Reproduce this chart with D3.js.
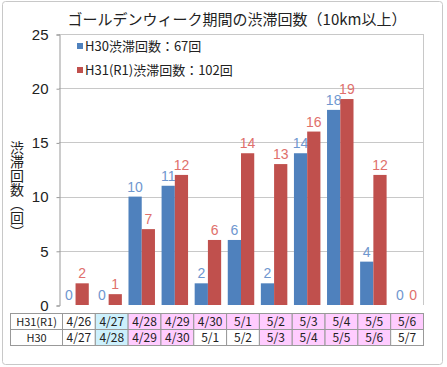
<!DOCTYPE html>
<html>
<head>
<meta charset="utf-8">
<script src="https://cdn.jsdelivr.net/npm/d3@7"></script>
<style>
  body { margin: 0; background: #fff; }
  svg { display: block; font-family: "Noto Sans CJK JP", sans-serif; }
</style>
</head>
<body>
<script>
// data
var dayIndex = [0, 1, 2, 3, 4, 5, 6, 7, 8, 9, 10];
var h30Counts = [0, 0, 10, 11, 2, 6, 2, 14, 18, 4, 0];
var h31Counts = [2, 1, 7, 12, 6, 14, 13, 16, 19, 12, 0];
var seriesNames = ["H30渋滞回数：67回", "H31(R1)渋滞回数：102回"];
var rowLabels = ["H31(R1)", "H30"];
var h31Dates = ["4/26", "4/27", "4/28", "4/29", "4/30", "5/1", "5/2", "5/3", "5/4", "5/5", "5/6"];
var h30Dates = ["4/27", "4/28", "4/29", "4/30", "5/1", "5/2", "5/3", "5/4", "5/5", "5/6", "5/7"];
// w = weekday, s = saturday, h = holiday
var h31Types = ["w", "s", "h", "h", "h", "h", "h", "h", "h", "h", "h"];
var h30Types = ["w", "s", "h", "h", "w", "w", "h", "h", "h", "h", "w"];
var yTicks = [0, 5, 10, 15, 20, 25];

var w = 447, h = 367;
var plotLeft = 59, plotRight = 423, plotTop = 34, plotBottom = 305;
var blue = "#4f81bd", red = "#c0504d";
var blueLabel = "#6f97cf", redLabel = "#e0706c";
var typeFill = { w: "#ffffff", s: "#ccf0fc", h: "#ffccff" };

var svg = d3.select("body").append("svg")
	.attr("width", w)
	.attr("height", h);

// outer frame
svg.append("rect")
	.attr("x", 2.5).attr("y", 1.5)
	.attr("width", 440).attr("height", 363)
	.attr("rx", 3)
	.attr("fill", "#fff")
	.attr("stroke", "#c8c8c8");

var x = d3.scaleBand()
	.domain(dayIndex)
	.range([plotLeft, plotRight])
	.paddingInner(0.2)
	.paddingOuter(0.1);
var x1 = d3.scaleBand()
	.domain([0, 1])
	.range([0, x.bandwidth()]);
var y = d3.scaleLinear()
	.domain([0, 25])
	.range([plotBottom, plotTop]);

// grid
svg.append("g").selectAll("line")
	.data(yTicks.slice(1))
	.enter()
	.append("line")
	.attr("x1", plotLeft).attr("x2", plotRight)
	.attr("y1", function(d){ return Math.round(y(d)) + 0.5; })
	.attr("y2", function(d){ return Math.round(y(d)) + 0.5; })
	.attr("stroke", "#c8c8c8");
svg.append("line")
	.attr("x1", plotRight + 0.5).attr("x2", plotRight + 0.5)
	.attr("y1", plotTop).attr("y2", plotBottom)
	.attr("stroke", "#c8c8c8");

// y axis
var yAxis = d3.axisLeft(y)
	.tickValues(yTicks)
	.tickSize(3)
	.tickPadding(8);
var gy = svg.append("g")
	.attr("transform", "translate(" + (plotLeft + 0.5) + ",0.5)")
	.call(yAxis);
gy.selectAll("text")
	.style("font-size", "15px")
	.style("font-family", "Arial, 'Liberation Sans', sans-serif")
	.attr("fill", "#222");
gy.selectAll("line").attr("stroke", "#999");
gy.select(".domain").attr("stroke", "#999");

// bars
var series = [h30Counts, h31Counts];
var colors = [blue, red];
var labelColors = [blueLabel, redLabel];
series.forEach(function(vals, s){
	svg.append("g").selectAll("rect")
		.data(vals)
		.enter()
		.append("rect")
		.attr("x", function(d, i){ return x(i) + x1(s); })
		.attr("y", function(d){ return y(d); })
		.attr("width", x1.bandwidth())
		.attr("height", function(d){ return plotBottom - y(d); })
		.attr("fill", colors[s]);
	svg.append("g").selectAll("text")
		.data(vals)
		.enter()
		.append("text")
		.attr("x", function(d, i){ return x(i) + x1(s) + x1.bandwidth() / 2; })
		.attr("y", function(d){ return y(d) - 5; })
		.attr("text-anchor", "middle")
		.attr("fill", labelColors[s])
		.style("font-size", "14px")
		.style("font-family", "Arial, 'Liberation Sans', sans-serif")
		.text(function(d){ return d; });
});

// title
svg.append("text")
	.attr("x", 237).attr("y", 25)
	.attr("text-anchor", "middle")
	.attr("fill", "#222")
	.style("font-size", "15px")
	.text("ゴールデンウィーク期間の渋滞回数（10km以上）");

// y axis title
svg.append("text")
	.attr("x", 17).attr("y", 141)
	.style("writing-mode", "vertical-rl")
	.style("font-size", "14px")
	.attr("fill", "#222")
	.text("渋滞回数（回）");

// legend
var legend = svg.append("g");
seriesNames.forEach(function(name, i){
	legend.append("rect")
		.attr("x", 77).attr("y", 43 + i * 24)
		.attr("width", 6).attr("height", 6)
		.attr("fill", colors[i]);
	legend.append("text")
		.attr("x", 85).attr("y", 51 + i * 24)
		.attr("fill", "#222")
		.style("font-size", "13px")
		.text(name);
});

// date table
var tx0 = 10.5, tx1 = 62.5, tx2 = 423.5, ty0 = 313.5, rowH = 16;
var colW = (tx2 - tx1) / dayIndex.length;
var table = svg.append("g");
var rows = [
	{ label: rowLabels[0], dates: h31Dates, types: h31Types },
	{ label: rowLabels[1], dates: h30Dates, types: h30Types }
];
rows.forEach(function(r, ri){
	var yy = ty0 + ri * rowH;
	table.append("rect")
		.attr("x", tx0).attr("y", yy)
		.attr("width", tx1 - tx0).attr("height", rowH)
		.attr("fill", "#fff").attr("stroke", "#999");
	table.append("text")
		.attr("x", (tx0 + tx1) / 2).attr("y", yy + 12.5)
		.attr("text-anchor", "middle")
		.attr("fill", "#222")
		.style("font-size", "11px")
		.text(r.label);
	table.append("g").selectAll("rect")
		.data(r.dates)
		.enter()
		.append("rect")
		.attr("x", function(d, i){ return tx1 + i * colW; })
		.attr("y", yy)
		.attr("width", colW).attr("height", rowH)
		.attr("fill", function(d, i){ return typeFill[r.types[i]]; })
		.attr("stroke", "#999");
	table.append("g").selectAll("text")
		.data(r.dates)
		.enter()
		.append("text")
		.attr("x", function(d, i){ return tx1 + (i + 0.5) * colW; })
		.attr("y", yy + 12.5)
		.attr("text-anchor", "middle")
		.attr("fill", "#222")
		.style("font-size", "12px")
		.text(function(d){ return d; });
});
</script>
</body>
</html>
